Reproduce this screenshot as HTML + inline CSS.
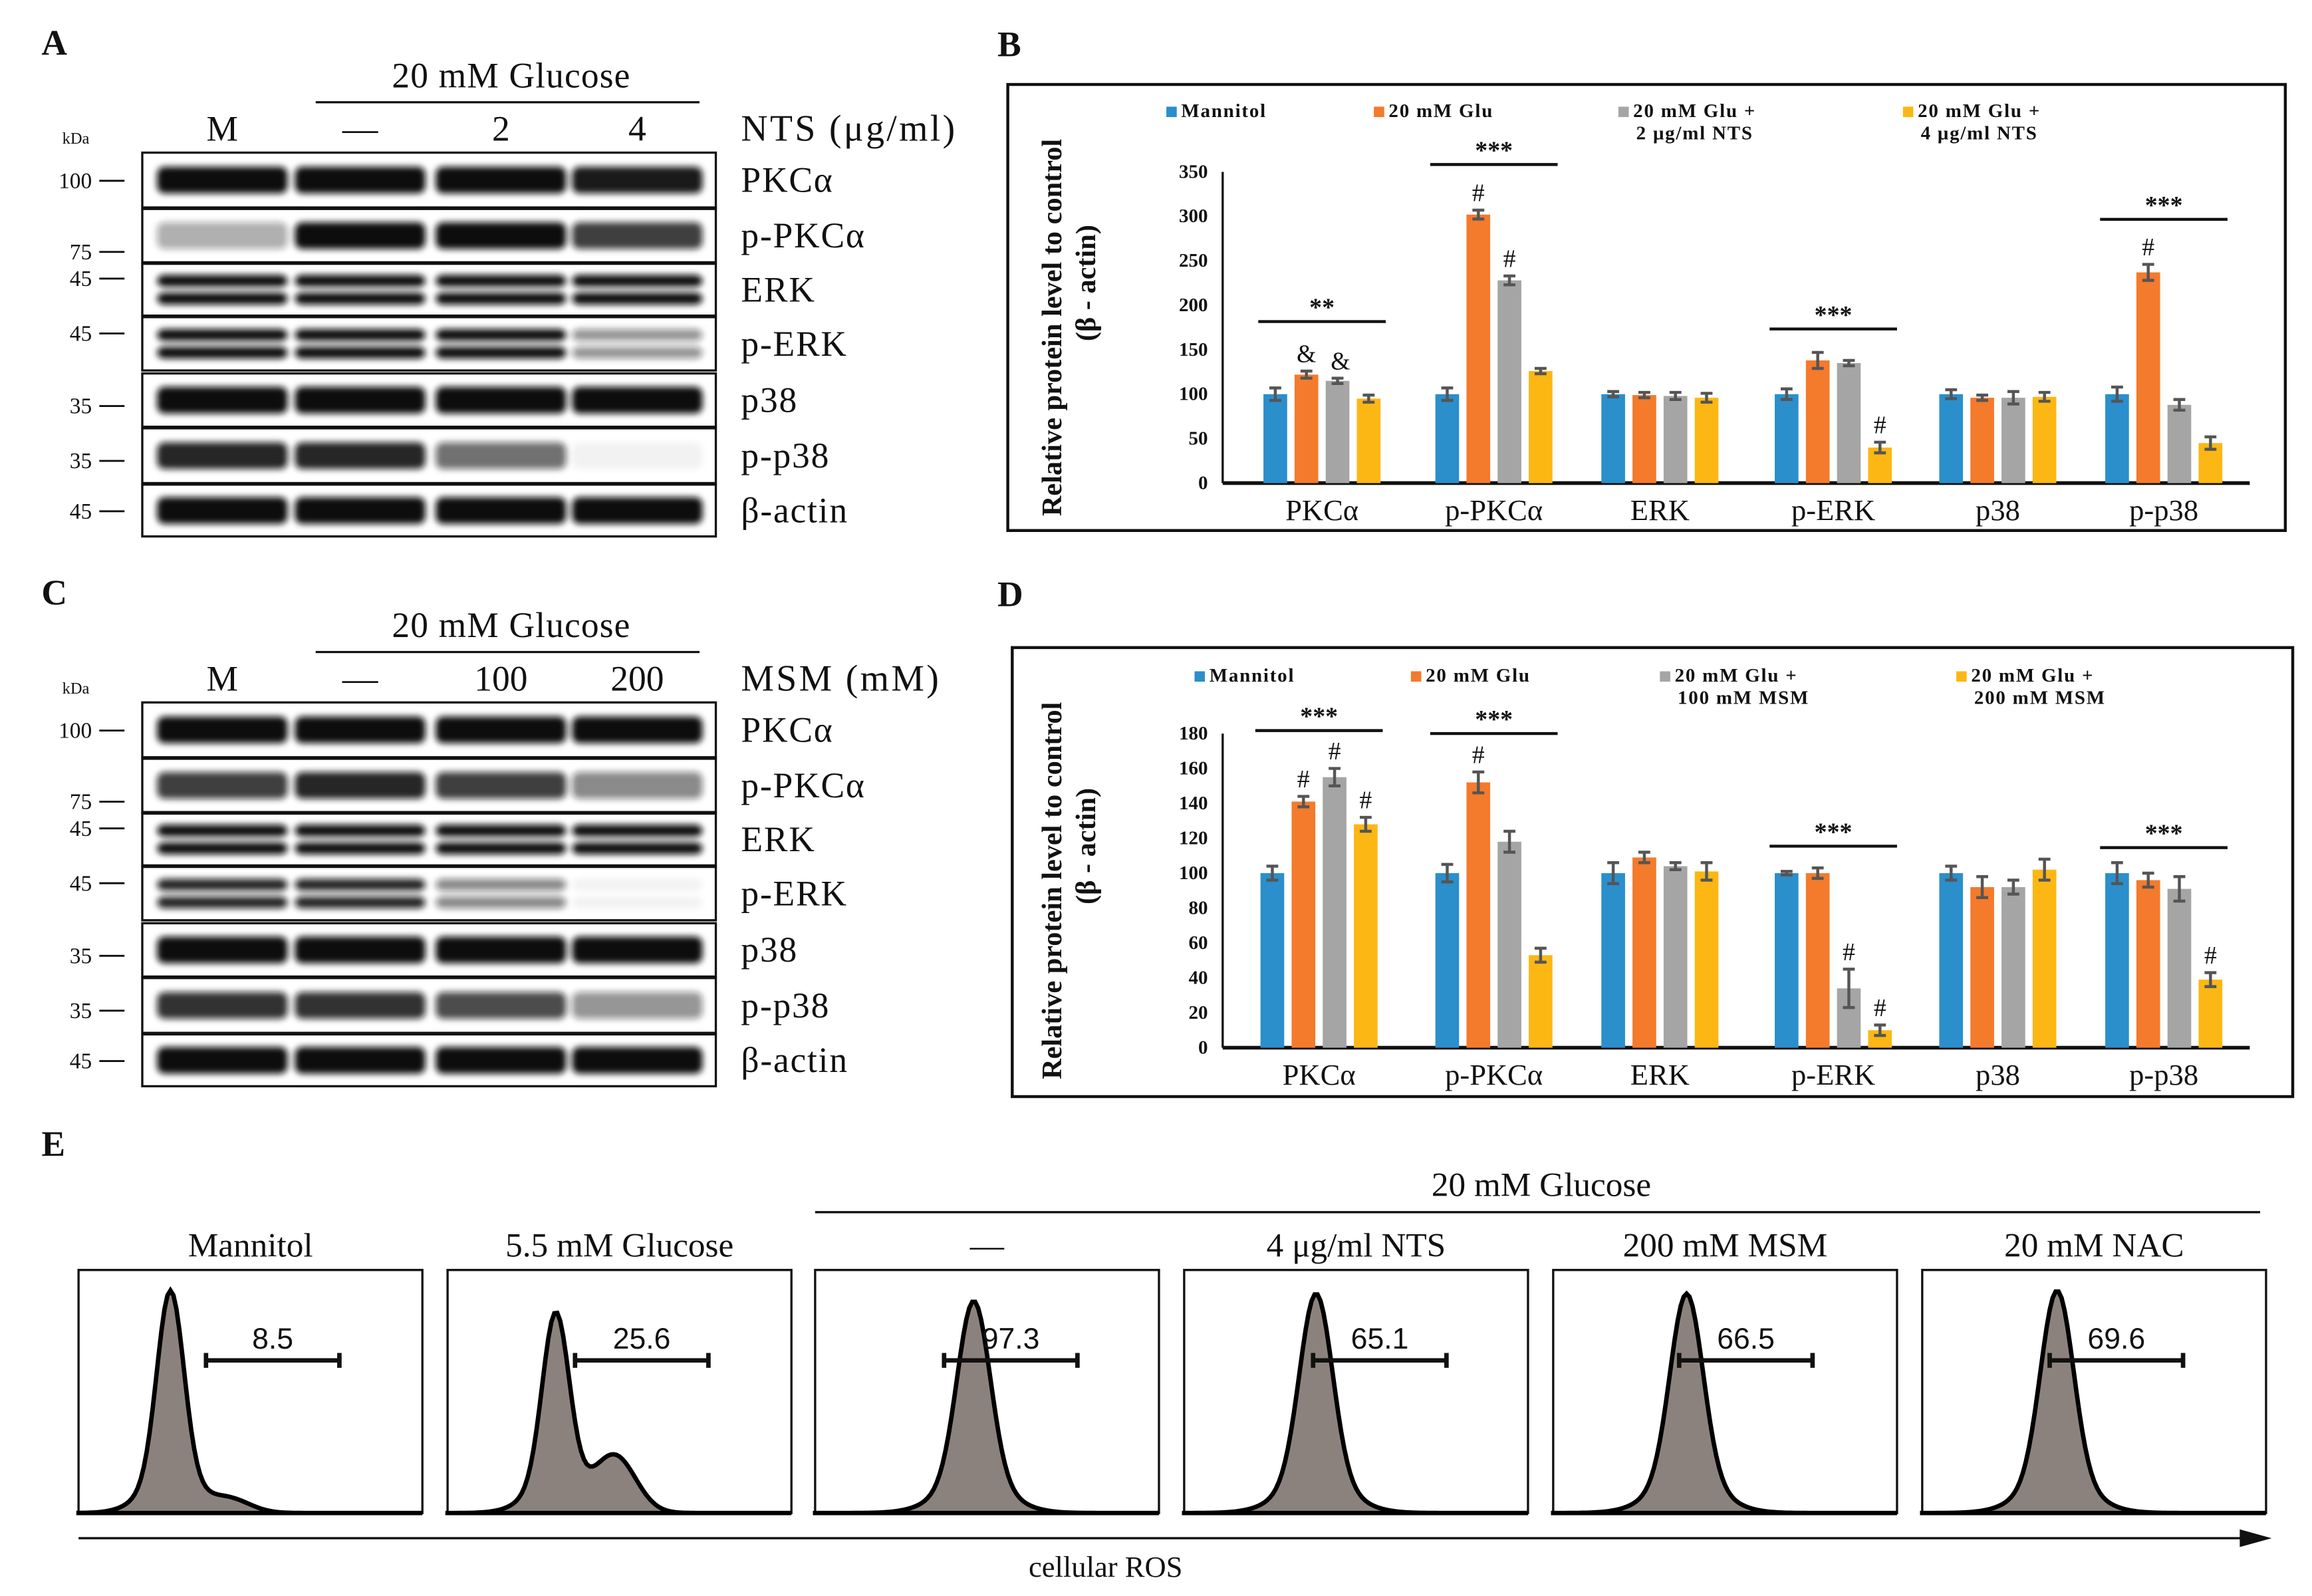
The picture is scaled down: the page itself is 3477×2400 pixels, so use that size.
<!DOCTYPE html>
<html><head><meta charset="utf-8"><style>
html,body{margin:0;padding:0;background:#fff;}
svg{display:block;}
text{font-family:"Liberation Serif",serif;fill:#111;}
.sans{font-family:"Liberation Sans",sans-serif;}
</style></head><body>
<svg id="fig" width="3477" height="2400" viewBox="0 0 1560 1077" preserveAspectRatio="none" xmlns="http://www.w3.org/2000/svg">
<defs>
<filter id="blur" x="-20%" y="-60%" width="140%" height="220%"><feGaussianBlur stdDeviation="2.2"/></filter>
</defs>
<g id="root"></g>
</svg>
<script>
// ---------- chart B data ----------
const catsB = ["PKCα","p-PKCα","ERK","p-ERK","p38","p-p38"];
const mannitolB = [100,100,100,100,100,100];
const glu20B = [122,302,99,138,96,237];
const nts2B = [115,228,98,135,96,88];
const nts4B = [95,126,96,40,97,45];
const errB = [[7,7,3,6,5,8],[4,5,3,9,3,9],[3,5,4,3,7,6],[4,3,5,6,5,7]];
const ticksB = [0,50,100,150,200,250,300,350];
// ---------- chart D data ----------
const catsD = ["PKCα","p-PKCα","ERK","p-ERK","p38","p-p38"];
const mannitolD = [100,100,100,100,100,100];
const glu20D = [141,152,109,100,92,96];
const msm100D = [155,118,104,34,92,91];
const msm200D = [128,53,101,10,102,39];
const errD = [[4,5,6,1,4,6],[3,6,3,3,6,4],[5,6,2,11,4,7],[4,4,5,3,6,4]];
const ticksD = [0,20,40,60,80,100,120,140,160,180];
// ---------- flow data ----------
const flowTitles = ["Mannitol","5.5 mM Glucose","—","4 μg/ml NTS","200 mM MSM","20 mM NAC"];
const flowValues = ["8.5","25.6","97.3","65.1","66.5","69.6"];

const NS="http://www.w3.org/2000/svg";
const root=document.getElementById('root');
function el(tag,attrs,parent,txt){const e=document.createElementNS(NS,tag);for(const k in attrs)e.setAttribute(k,attrs[k]);if(txt!==undefined)e.textContent=txt;(parent||root).appendChild(e);return e;}

const colors=["#2a8fcb","#f47a2c","#a5a5a5","#fdb714"];

function barChart(o){
  const g=el('g',{});
  
  
  const box=el('rect',{x:o.bx,y:o.by,width:o.bw,height:o.bh,fill:'none',stroke:'#111','stroke-width':2},g);
  
  
  const y=v=>o.y0-(v/o.ymax)*(o.y0-o.ytop);
  const x=(i,s)=>o.cx[i]+(s-1.5)*o.step;
  o.ticks.forEach(t=>{
    const tl=el('text',{x:o.axX-10,y:y(t)+4,'text-anchor':'end','font-size':13,'font-weight':'bold'},g,String(t));
    
    
  });
  const ax=el('line',{x1:o.axX,y1:o.ytop,x2:o.axX,y2:o.y0,stroke:'#111','stroke-width':1.5},g);
  
  
  const xa=el('line',{x1:o.axX,y1:o.y0,x2:o.axX2,y2:o.y0,stroke:'#111','stroke-width':2.5},g);
  
  
  const t1=el('text',{transform:`translate(${o.titleX},${(o.ytop+o.y0)/2}) rotate(-90)`,'text-anchor':'middle','font-size':19,'font-weight':'bold'},g,'Relative protein level to control');
  
  
  const t2=el('text',{transform:`translate(${o.titleX+23},${(o.ytop+o.y0)/2-30}) rotate(-90)`,'text-anchor':'middle','font-size':19,'font-weight':'bold'},g,'(β - actin)');
  
  
  o.series.forEach((ser,s)=>{
    ser.forEach((v,i)=>{
      const bx=x(i,s)-o.bwid/2;
      const r=el('rect',{x:bx,y:y(v),width:o.bwid,height:o.y0-y(v),fill:colors[s]},g);
      
      
      const e=o.err[s][i];
      const ep=el('path',{d:`M${x(i,s)},${y(v+e)}V${y(v-e)}M${x(i,s)-4},${y(v+e)}H${x(i,s)+4}M${x(i,s)-4},${y(v-e)}H${x(i,s)+4}`,stroke:'#555','stroke-width':2,fill:'none'},g);
      
      
    });
  });
  o.cats.forEach((c,i)=>{
    const cl=el('text',{x:o.cx[i],y:o.y0+25,'text-anchor':'middle','font-size':20},g,c);
    
    
  });
  o.legend.forEach((l,s)=>{
    const lx=o.legX[s];
    const sw=el('rect',{x:lx,y:o.legY-6,width:7,height:7,fill:colors[s]},g);
    
    
    const lines=l.split('\n');
    lines.forEach((ln,k)=>{
      const lt=el('text',{x:lx+10+(k?2:0),y:o.legY+1+k*15,'font-size':13,'font-weight':'bold','letter-spacing':'0.8'},g,ln);
      
      
    });
  });
  o.sig.forEach(sg=>{
    const i=sg.i;
    const ln=el('line',{x1:o.cx[i]-43,x2:o.cx[i]+43,y1:sg.y,y2:sg.y,stroke:'#111','stroke-width':2},g);
    
    
    const st=el('text',{x:o.cx[i],y:sg.y-4,'text-anchor':'middle','font-size':17,'font-weight':'bold'},g,sg.t);
    
    
  });
  o.marks.forEach(m=>{
    const v=o.series[m.s][m.i]+o.err[m.s][m.i];
    const mt=el('text',{x:x(m.i,m.s)+(m.dx||0),y:y(v)-6,'text-anchor':'middle','font-size':17},g,m.t);
    
    
  });
}

const cx=[892,1008,1120,1237,1348,1460];
barChart({name:'chart-b',bx:680,by:57,bw:862,bh:301,axX:825,axX2:1518,ytop:116,y0:326,ymax:350,ticks:ticksB,
  titleX:716,cx:cx,step:21,bwid:16,cats:catsB,series:[mannitolB,glu20B,nts2B,nts4B],err:errB,
  legend:["Mannitol","20 mM Glu","20 mM Glu +\n2 μg/ml NTS","20 mM Glu +\n4 μg/ml NTS"],legX:[787,927,1092,1284],legY:78,
  sig:[{i:0,y:217,t:'**'},{i:1,y:111,t:'***'},{i:3,y:222,t:'***'},{i:5,y:148,t:'***'}],
  marks:[{s:1,i:0,t:'&',dx:0},{s:2,i:0,t:'&',dx:2},{s:1,i:1,t:'#'},{s:2,i:1,t:'#'},{s:3,i:3,t:'#'},{s:1,i:5,t:'#'}]});
barChart({name:'chart-d',bx:683,by:437,bw:864,bh:303,axX:825,axX2:1518,ytop:495,y0:707,ymax:180,ticks:ticksD,
  titleX:716,cx:[890,1008,1120,1237,1348,1460],step:21,bwid:16,cats:catsD,series:[mannitolD,glu20D,msm100D,msm200D],err:errD,
  legend:["Mannitol","20 mM Glu","20 mM Glu +\n100 mM MSM","20 mM Glu +\n200 mM MSM"],legX:[806,952,1120,1320],legY:459,
  sig:[{i:0,y:493,t:'***'},{i:1,y:495,t:'***'},{i:3,y:571,t:'***'},{i:5,y:572,t:'***'}],
  marks:[{s:1,i:0,t:'#'},{s:2,i:0,t:'#'},{s:3,i:0,t:'#'},{s:1,i:1,t:'#'},{s:2,i:3,t:'#'},{s:3,i:3,t:'#'},{s:3,i:5,t:'#'}]});

function blots(o){
  const g=el('g',{});
  
  
  const pl=el('text',{x:28,y:o.top-66,'font-size':24,'font-weight':'bold'},g,o.letter);
  
  
  const h=el('text',{x:345,y:o.top-44,'text-anchor':'middle','font-size':24,'letter-spacing':'0.5'},g,'20 mM Glucose');
  
  
  const hl=el('line',{x1:213,x2:472,y1:o.top-34,y2:o.top-34,stroke:'#111','stroke-width':1.5},g);
  
  
  const lanes=[150,243,338,430];
  o.laneLabels.forEach((l,i)=>{
    const t=el('text',{x:lanes[i],y:o.top-8,'text-anchor':'middle','font-size':24},g,l);
    
    
  });
  const tr=el('text',{x:500,y:o.top-8,'font-size':25,'letter-spacing':o.ls},g,o.treat);
  
  
  const kd=el('text',{x:42,y:o.top-6,'font-size':11},g,'kDa');
  
  
  const rows=[[0,37],[38,74],[75,110],[111,147],[149,185],[186,223],[224,259]];
  o.rowNames.forEach((rn,r)=>{
    const y1=o.top+rows[r][0], y2=o.top+rows[r][1], ym=(y1+y2)/2;
    const box=el('rect',{x:96,y:y1,width:387,height:y2-y1,fill:'#fff',stroke:'#111','stroke-width':1.5},g);
    
    
    const bg=el('g',{filter:'url(#blur)'},g);
    o.intens[r].forEach((v,i)=>{
      if(v<=0.02) return;
      const dbl=(rn==='ERK'||rn==='p-ERK');
      const ys=dbl?[ym-6,ym+6]:[ym];
      ys.forEach(yy=>{
        el('rect',{x:lanes[i]-44,y:yy-(dbl?4:9),width:88,height:dbl?8:18,rx:5,fill:'#111','fill-opacity':v},bg);
      });
    });
    const rl=el('text',{x:500,y:ym+8,'font-size':24,'letter-spacing':'0.8'},g,rn);
    
    
  });
  o.kdas.forEach(k=>{
    const t=el('text',{x:62,y:o.top+k[1]+5,'text-anchor':'end','font-size':15},g,k[0]);
    
    
    el('line',{x1:67,x2:84,y1:o.top+k[1],y2:o.top+k[1],stroke:'#111','stroke-width':1.3},g);
  });
}
const rowNames=["PKCα","p-PKCα","ERK","p-ERK","p38","p-p38","β-actin"];
const kdas=[["100",19],["75",67],["45",85],["45",122],["35",171],["35",208],["45",242]];
blots({name:'blot-panel-a',letter:'A',top:103,laneLabels:["M","—","2","4"],treat:"NTS (μg/ml)",ls:'1.5',rowNames:rowNames,kdas:kdas,
  intens:[[1,1,1,0.95],[0.35,1,1,0.8],[1,1,1,1],[1,1,1,0.45],[1,1,1,1],[0.9,0.9,0.6,0.05],[1,1,1,1]]});
blots({name:'blot-panel-c',letter:'C',top:474,laneLabels:["M","—","100","200"],treat:"MSM (mM)",ls:'1.5',rowNames:rowNames,kdas:kdas,
  intens:[[1,1,1,1],[0.8,0.9,0.8,0.5],[1,1,1,1],[0.9,0.9,0.5,0.05],[1,1,1,1],[0.85,0.85,0.75,0.45],[1,1,1,1]]});

(function(){
  const g=el('g',{});
  
  
  const pl=el('text',{x:28,y:780,'font-size':24,'font-weight':'bold'},g,'E');
  
  
  const gh=el('text',{x:1040,y:807,'text-anchor':'middle','font-size':23},g,'20 mM Glucose');
  
  
  el('line',{x1:550,x2:1525,y1:818,y2:818,stroke:'#111','stroke-width':1.5},g);
  const lefts=[53,302,550,799,1048,1297];
  const peaks=[62,73,107,89,90,91];
  const heights=[150,135,143,148,148,150];
  const sh=[0.06,0.28,0,0,0,0];
  const top=857,bot=1021,w=232;
  lefts.forEach((L,k)=>{
    const t=el('text',{x:L+w/2,y:848,'text-anchor':'middle','font-size':23},g,flowTitles[k]);
    
    
    const b=el('rect',{x:L,y:top,width:w,height:bot-top,fill:'#fff',stroke:'#111','stroke-width':1.5},g);
    
    
    const sd=k<2?9:11;
    let d=`M${L},${bot}`;
    for(let px=0;px<=w;px+=2){
      const dx=px-peaks[k];
      let v=Math.exp(-dx*dx/(2*sd*sd))*heights[k]*0.85+Math.exp(-dx*dx/(2*(sd*2)*(sd*2)))*heights[k]*0.15;
      const d2=px-peaks[k]-40;
      v+=Math.exp(-d2*d2/(2*14*14))*heights[k]*sh[k];
      d+=`L${L+px},${bot-v}`;
    }
    d+=`L${L+w},${bot}Z`;
    const p=el('path',{d:d,fill:'#8c827d',stroke:'#000','stroke-width':3},g);
    
    
    const gx1=L+[86,86,87,87,85,86][k], gx2=gx1+90;
    el('path',{d:`M${gx1},918H${gx2}M${gx1},913V923M${gx2},913V923`,stroke:'#111','stroke-width':3,fill:'none'},g);
    const v=el('text',{x:(gx1+gx2)/2,y:910,'text-anchor':'middle','font-size':20,class:'sans'},g,flowValues[k]);
    
    
  });
  const ar=el('path',{d:'M53,1038H1522M1512,1033L1530,1038L1512,1043Z',stroke:'#111','stroke-width':1.5,fill:'#111'},g);
  
  
  const xt=el('text',{x:746,y:1064,'text-anchor':'middle','font-size':20},g,'cellular ROS');
  
  
})();
[['B',673,38],['D',673,409]].forEach(a=>{
  const t=el('text',{x:a[1],y:a[2],'font-size':24,'font-weight':'bold'},root,a[0]);
  
  
});
</script>
</body></html>
